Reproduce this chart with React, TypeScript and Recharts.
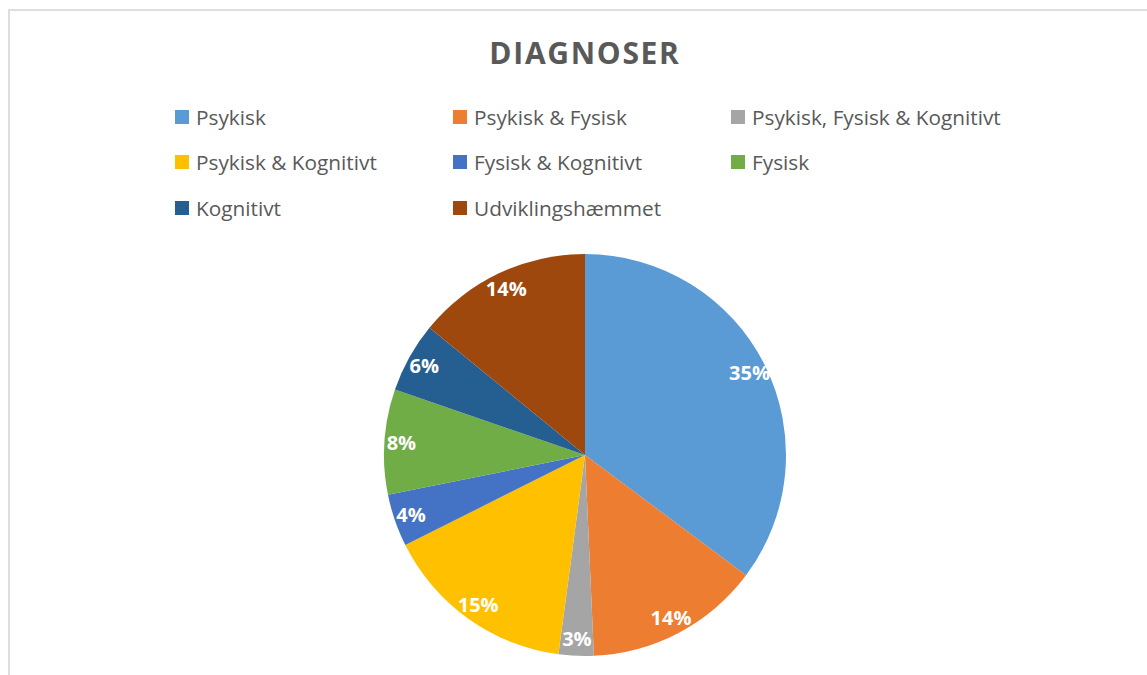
import React from 'react'
import { PieChart, Pie, Cell } from 'recharts'

const categories = [
  'Psykisk',
  'Psykisk & Fysisk',
  'Psykisk, Fysisk & Kognitivt',
  'Psykisk & Kognitivt',
  'Fysisk & Kognitivt',
  'Fysisk',
  'Kognitivt',
  'Udviklingshæmmet',
]
const counts = [25, 10, 2, 11, 3, 6, 4, 10]
const colors = ['#5B9BD5', '#ED7D31', '#A5A5A5', '#FFC000', '#4472C4', '#70AD47', '#255E91', '#9E480E']

const data = categories.map((name, i) => ({ name, value: counts[i] }))

const FONT = '"Open Sans", "Noto Sans", sans-serif'
const RADIAN = Math.PI / 180

const renderLabel = ({ cx, cy, midAngle, outerRadius, percent }: any) => {
  const r = outerRadius - 17
  const x = cx + r * Math.cos(-midAngle * RADIAN)
  const y = cy + r * Math.sin(-midAngle * RADIAN)
  return (
    <text x={x} y={y} fill="#fff" textAnchor="middle" dominantBaseline="central"
      style={{ fontFamily: FONT, fontSize: 20, fontWeight: 700 }}>
      {Math.round(percent * 100)}%
    </text>
  )
}

export default function App() {
  return (
    <div style={{ position: 'absolute', left: 0, top: 0, width: 1147, height: 675, overflow: 'hidden', background: '#fff' }}>
      <div style={{
        position: 'absolute', left: 8, top: 9, width: 1200, height: 700,
        borderTop: '2px solid #dedede', borderLeft: '2px solid #dedede',
      }} />
      <div style={{
        position: 'absolute', left: 0, width: 1170, top: 32, textAlign: 'center',
        fontFamily: FONT, fontWeight: 700, fontSize: 30, color: '#595959', letterSpacing: 1.7,
      }}>
        DIAGNOSER
      </div>

      {/* legend, three columns like the original */}
      <div style={{
        position: 'absolute', top: 94, left: 175, width: 900,
        display: 'grid', gridTemplateColumns: '278px 278px 320px', fontFamily: FONT,
      }}>
        {categories.map((name, i) => (
          <div key={name} style={{ display: 'flex', alignItems: 'center', height: 45.5 }}>
            <span style={{ width: 14, height: 14, background: colors[i], marginRight: 7, flexShrink: 0 }} />
            <span style={{ fontSize: 20.8, color: '#595959', whiteSpace: 'nowrap' }}>{name}</span>
          </div>
        ))}
      </div>

      <div style={{ position: 'absolute', left: 0, top: 0 }}>
        <PieChart width={1147} height={675} margin={{ top: 0, right: 0, bottom: 0, left: 0 }}>
          <Pie
            data={data}
            dataKey="value"
            nameKey="name"
            cx={585}
            cy={455}
            outerRadius={201}
            startAngle={90}
            endAngle={-270}
            stroke="none"
            labelLine={false}
            label={renderLabel}
            isAnimationActive={false}
          >
            {data.map((d, i) => (
              <Cell key={d.name} fill={colors[i]} />
            ))}
          </Pie>
        </PieChart>
      </div>
    </div>
  )
}
